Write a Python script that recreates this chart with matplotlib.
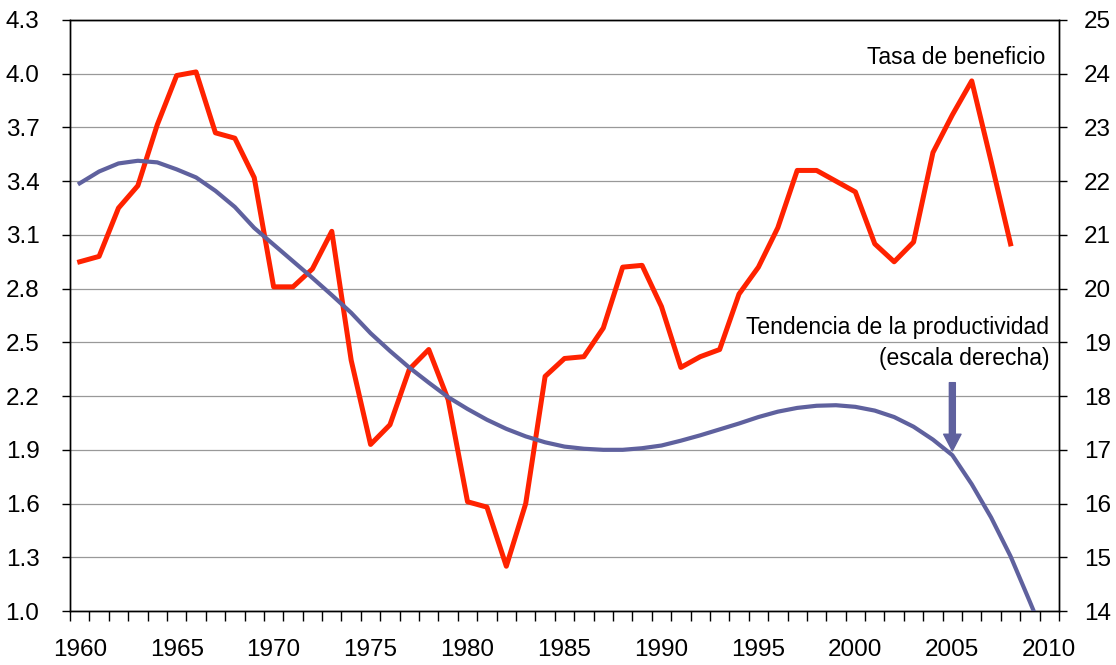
import matplotlib.pyplot as plt
from matplotlib.ticker import MultipleLocator, FixedLocator

plt.rcParams['font.family'] = ['Liberation Sans', 'DejaVu Sans']

# tasa de beneficio (left scale), 1960-2008
years = list(range(1960, 2009))
tasa = [2.95, 2.98, 3.25, 3.375, 3.715, 3.99, 4.01, 3.67, 3.64, 3.42,
        2.81, 2.81, 2.91, 3.12, 2.40, 1.93, 2.04, 2.35, 2.46, 2.18,
        1.61, 1.58, 1.25, 1.60, 2.31, 2.41, 2.42, 2.58, 2.92, 2.93,
        2.70, 2.36, 2.42, 2.46, 2.77, 2.92, 3.14, 3.46, 3.46, 3.40,
        3.34, 3.05, 2.95, 3.06, 3.56, 3.77, 3.96, 3.51, 3.05]

# tendencia de la productividad (right scale), 1960-2010
trend_years = list(range(1960, 2011))
tendencia = [21.96, 22.18, 22.33, 22.38, 22.35, 22.22, 22.07, 21.82, 21.52, 21.13,
             20.82, 20.51, 20.20, 19.88, 19.55, 19.17, 18.84, 18.53, 18.25, 17.98,
             17.76, 17.56, 17.39, 17.25, 17.14, 17.06, 17.02, 17.00, 17.00, 17.03,
             17.08, 17.17, 17.27, 17.38, 17.49, 17.61, 17.71, 17.78, 17.82, 17.83,
             17.80, 17.73, 17.61, 17.43, 17.19, 16.90, 16.36, 15.74, 15.02, 14.17,
             13.30]

red = '#FF2200'
blue = '#5F619E'

fig = plt.figure(figsize=(11.16, 6.65), dpi=100)
ax = fig.add_axes([70 / 1116, 54 / 665, 989 / 1116, 591 / 665])

ax.plot(years, tasa, color=red, lw=3.6, solid_joinstyle='round', zorder=3)

ax.set_xlim(1959.5, 2010.5)
ax.set_ylim(1.0, 4.3)
ax.yaxis.set_major_locator(FixedLocator([1.0 + 0.3 * i for i in range(12)]))
ax.set_yticklabels([f"{1.0 + 0.3 * i:.1f}" for i in range(12)])
ax.xaxis.set_major_locator(MultipleLocator(5))
ax.xaxis.set_minor_locator(FixedLocator([y - 0.5 for y in range(1960, 2012)]))
ax.grid(axis='y', color='#999999', lw=0.9)
ax.set_axisbelow(True)

ax.tick_params(axis='x', which='major', length=0, pad=20, labelsize=17.5)
ax.tick_params(axis='x', which='minor', length=7.5, width=1, direction='out')
ax.tick_params(axis='y', length=6, width=1, pad=16, labelsize=17.5)

for s in ax.spines.values():
    s.set_linewidth(1.0)
    s.set_color('black')

ax2 = ax.twinx()
ax2.plot(trend_years, tendencia, color=blue, lw=3.0, zorder=3)
ax2.set_ylim(14, 25)
ax2.yaxis.set_major_locator(MultipleLocator(1))
ax2.tick_params(axis='y', length=6, width=1, pad=12, labelsize=17.5)
for s in ax2.spines.values():
    s.set_linewidth(1.0)
    s.set_color('black')

ax2.text(0.986, 0.937, 'Tasa de beneficio', transform=ax2.transAxes,
         ha='right', va='center', fontsize=16.5)
ax2.text(0.990, 0.453, 'Tendencia de la productividad\n(escala derecha)',
         transform=ax2.transAxes, ha='right', va='center', multialignment='right',
         fontsize=16.5, linespacing=1.45)

ax2.annotate('', xy=(2005, 16.98), xytext=(2005, 18.25),
             arrowprops=dict(color=blue, width=4.3, headwidth=12.5,
                             headlength=12, shrink=0))

fig.savefig('out.png', dpi=100)
